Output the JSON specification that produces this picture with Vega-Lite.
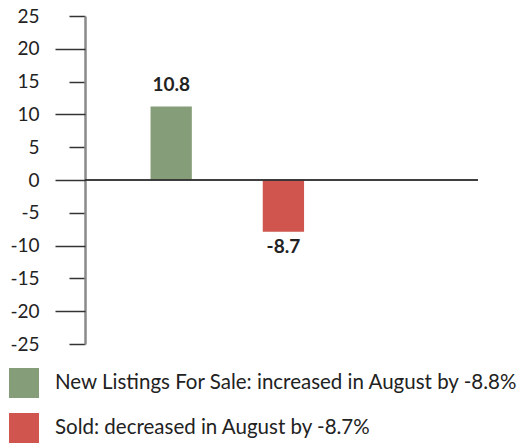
{
  "$schema": "https://vega.github.io/schema/vega-lite/v6.json",
  "width": 393,
  "height": 328,
  "autosize": {"type": "none"},
  "padding": {"left": 85, "top": 16, "right": 53, "bottom": 102},
  "background": "white",
  "config": {
    "view": {"stroke": null},
    "font": "Lato",
    "axis": {
      "grid": false,
      "title": null,
      "domainColor": "#8a8a8a",
      "domainWidth": 2.5,
      "tickColor": "#333333",
      "tickWidth": 1.5,
      "labelFont": "Lato",
      "labelFontSize": 19,
      "labelColor": "#222222",
      "labelOverlap": false,
      "labelBound": false
    }
  },
  "data": {
    "values": [
      {"cat": "A", "value": 11.2, "label": "10.8", "series": "New Listings For Sale: increased in August by -8.8%"},
      {"cat": "B", "value": -7.9, "label": "-8.7", "series": "Sold: decreased in August by -8.7%"}
    ]
  },
  "encoding": {
    "x": {
      "field": "cat",
      "type": "nominal",
      "scale": {"domain": ["A", "B", "C"], "paddingInner": 0.632, "paddingOuter": 0.567, "align": 0.515},
      "axis": null
    }
  },
  "resolve": {"axis": {"y": "independent"}},
  "layer": [
    {
      "mark": {"type": "bar"},
      "encoding": {
        "y": {
          "field": "value",
          "type": "quantitative",
          "scale": {"domain": [-25, 25], "nice": false, "zero": false},
          "axis": {
            "orient": "left",
            "values": [-25, -15, -5, 5, 15, 25],
            "labelExpr": "'' + datum.value",
            "tickSize": 16,
            "labelPadding": 30
          }
        },
        "color": {
          "field": "series",
          "type": "nominal",
          "scale": {
            "domain": ["New Listings For Sale: increased in August by -8.8%", "Sold: decreased in August by -8.7%"],
            "range": ["#869d7a", "#cf554e"]
          },
          "legend": {
            "title": null,
            "orient": "none",
            "legendX": -76,
            "legendY": 352,
            "symbolType": "square",
            "symbolSize": 900,
            "symbolStrokeWidth": 0,
            "symbolOpacity": 1,
            "labelFont": "Lato",
            "labelFontSize": 20.5,
            "labelColor": "#222222",
            "labelOffset": 16,
            "labelLimit": 0,
            "rowPadding": 15,
            "padding": 0
          }
        }
      }
    },
    {
      "mark": {"type": "rule", "color": "#333333", "strokeWidth": 1.5},
      "encoding": {
        "y": {
          "datum": 0,
          "type": "quantitative",
          "axis": {
            "orient": "left",
            "values": [-20, -10, 0, 10, 20],
            "labelExpr": "'' + datum.value",
            "tickSize": 30,
            "labelPadding": 16,
            "domain": false
          }
        },
        "x": {"value": 0},
        "x2": {"value": 393}
      }
    },
    {
      "transform": [{"filter": "datum.value >= 0"}],
      "mark": {"type": "text", "font": "Lato", "fontSize": 19, "fontWeight": "bold", "color": "#222222", "baseline": "alphabetic", "dy": -16},
      "encoding": {
        "y": {"field": "value", "type": "quantitative", "axis": null},
        "text": {"field": "label"}
      }
    },
    {
      "transform": [{"filter": "datum.value < 0"}],
      "mark": {"type": "text", "font": "Lato", "fontSize": 19, "fontWeight": "bold", "color": "#222222", "baseline": "alphabetic", "dy": 21},
      "encoding": {
        "y": {"field": "value", "type": "quantitative", "axis": null},
        "text": {"field": "label"}
      }
    }
  ]
}
